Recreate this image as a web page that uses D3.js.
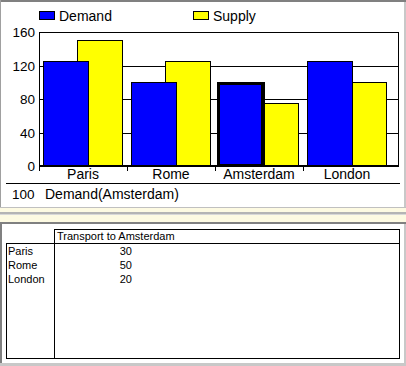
<!DOCTYPE html>
<html>
<head>
<meta charset="utf-8">
<script src="https://cdn.jsdelivr.net/npm/d3@7"></script>
<style>
  html, body { margin: 0; padding: 0; background: #ffffff; }
  svg { display: block; }
  text { font-family: "Liberation Sans", Arial, sans-serif; fill: #000; }
</style>
</head>
<body>
<script>
// ---- data ----
const categories = ["Paris", "Rome", "Amsterdam", "London"];
const seriesNames = ["Demand", "Supply"];
const demand = [125, 100, 100, 125];
const supply = [150, 125, 75, 100];
const yTicks = [0, 40, 80, 120, 160];
const selectedCategory = "Amsterdam";
const tableTitle = "Transport to Amsterdam";
const tableRows = ["Paris", "Rome", "London"];
const transport = [30, 50, 20];

const colors = { Demand: "#0000ff", Supply: "#ffff00" };

const W = 406, H = 366;
const svg = d3.select("body").append("svg").attr("width", W).attr("height", H);

// ---- window chrome ----
svg.append("rect").attr("x", 0).attr("y", 0).attr("width", W).attr("height", H).attr("fill", "#ffffff");
// top panel borders
svg.append("rect").attr("x", 0).attr("y", 0).attr("width", W).attr("height", 2).attr("fill", "#808080");
svg.append("rect").attr("x", 0).attr("y", 0).attr("width", 1).attr("height", 208).attr("fill", "#a0a0a0");
svg.append("rect").attr("x", 404).attr("y", 2).attr("width", 2).attr("height", 206).attr("fill", "#c8c8c8");
svg.append("rect").attr("x", 0).attr("y", 207).attr("width", W).attr("height", 1).attr("fill", "#c0c0c0");
// splitter
svg.append("rect").attr("x", 0).attr("y", 208).attr("width", W).attr("height", 14).attr("fill", "#fdfae2");
svg.append("rect").attr("x", 0).attr("y", 212).attr("width", W).attr("height", 2).attr("fill", "#b4b4b4");
svg.append("rect").attr("x", 0).attr("y", 214).attr("width", W).attr("height", 1).attr("fill", "#d8d8d8");
svg.append("rect").attr("x", 0).attr("y", 222).attr("width", W).attr("height", 2).attr("fill", "#808080");
// bottom panel borders
svg.append("rect").attr("x", 0).attr("y", 222).attr("width", 2).attr("height", 144).attr("fill", "#808080");
svg.append("rect").attr("x", 404).attr("y", 224).attr("width", 2).attr("height", 142).attr("fill", "#c8c8c8");
svg.append("rect").attr("x", 0).attr("y", 363).attr("width", W).attr("height", 3).attr("fill", "#c8c8c8");

// ---- chart scales ----
const x = d3.scaleBand().domain(categories).range([39, 391]).padding(0);
const barW = 45;
const offset = d3.scaleOrdinal(seriesNames, [4, 38]);
const y = d3.scaleLinear().domain([0, 160]).range([166, 32]);
const plotRight = 398;

const g = svg.append("g");

// gridlines
g.selectAll("line.grid").data(yTicks.filter(t => t > 0)).join("line")
  .attr("x1", 39).attr("x2", plotRight + 1)
  .attr("y1", d => Math.round(y(d)) + 0.5).attr("y2", d => Math.round(y(d)) + 0.5)
  .attr("stroke", "#000").attr("stroke-width", 1);

// frame
g.append("line").attr("x1", 39.5).attr("x2", 39.5).attr("y1", 32).attr("y2", 171).attr("stroke", "#000");
g.append("line").attr("x1", plotRight + 0.5).attr("x2", plotRight + 0.5).attr("y1", 32).attr("y2", 166).attr("stroke", "#000");

// bars: supply first, demand on top
const series = [
  { name: "Supply", values: supply },
  { name: "Demand", values: demand }
];
series.forEach(s => {
  g.selectAll("rect.b" + s.name).data(categories.map((c, i) => ({ c, v: s.values[i] }))).join("rect")
    .attr("x", d => x(d.c) + offset(s.name) + 0.5)
    .attr("y", d => Math.round(y(d.v)) + 0.5)
    .attr("width", barW)
    .attr("height", d => y(0) - Math.round(y(d.v)) - 0.5)
    .attr("fill", colors[s.name])
    .attr("stroke", "#000")
    .attr("stroke-width", 1);
});

// selected bar highlight
const si = categories.indexOf(selectedCategory);
g.append("rect")
  .attr("x", x(selectedCategory) + offset("Demand") - 2 + 0.5 + 1)
  .attr("y", Math.round(y(demand[si])) + 0.5 + 1)
  .attr("width", barW - 1)
  .attr("height", y(0) - Math.round(y(demand[si])) - 2)
  .attr("fill", "none")
  .attr("stroke", "#000")
  .attr("stroke-width", 3);

// baseline
g.append("line").attr("x1", 39).attr("x2", plotRight + 1).attr("y1", y(0)).attr("y2", y(0))
  .attr("stroke", "#000").attr("stroke-width", 2);

// category ticks
g.selectAll("line.ctick").data(categories).join("line")
  .attr("x1", d => x(d) + 0.5).attr("x2", d => x(d) + 0.5)
  .attr("y1", 166).attr("y2", 171).attr("stroke", "#000");

// y labels
g.selectAll("text.ylab").data(yTicks).join("text")
  .attr("x", 35).attr("y", d => y(d) + 5)
  .attr("text-anchor", "end").attr("font-size", 13.5).text(d => d);

// category labels
g.selectAll("text.clab").data(categories).join("text")
  .attr("x", d => x(d) + x.bandwidth() / 2).attr("y", 179)
  .attr("text-anchor", "middle").attr("font-size", 14).text(d => d);

// legend
const legendX = d3.scaleOrdinal(seriesNames, [39, 193]);
seriesNames.forEach(n => {
  g.append("rect").attr("x", legendX(n) + 0.5).attr("y", 11.5).attr("width", 15).attr("height", 8)
    .attr("fill", colors[n]).attr("stroke", "#000");
  g.append("text").attr("x", legendX(n) + 20).attr("y", 21).attr("font-size", 14).text(n);
});

// footer
g.append("line").attr("x1", 6).attr("x2", 400).attr("y1", 183.5).attr("y2", 183.5).attr("stroke", "#000");
g.append("text").attr("x", 12).attr("y", 199).attr("font-size", 13.5).text(demand[si]);
g.append("text").attr("x", 45).attr("y", 199).attr("font-size", 14).text("Demand(" + selectedCategory + ")");

// ---- table ----
const t = svg.append("g");
t.append("rect").attr("x", 54.5).attr("y", 229.5).attr("width", 345).attr("height", 14)
  .attr("fill", "none").attr("stroke", "#000");
t.append("rect").attr("x", 6.5).attr("y", 243.5).attr("width", 48).attr("height", 115)
  .attr("fill", "none").attr("stroke", "#000");
t.append("rect").attr("x", 54.5).attr("y", 243.5).attr("width", 345).attr("height", 115)
  .attr("fill", "none").attr("stroke", "#000");
t.append("text").attr("x", 57).attr("y", 240).attr("font-size", 11).text(tableTitle);
const rowY = d3.scalePoint().domain(tableRows).range([255, 283]);
t.selectAll("text.rl").data(tableRows).join("text")
  .attr("x", 8).attr("y", d => rowY(d)).attr("font-size", 11).text(d => d);
t.selectAll("text.rv").data(tableRows).join("text")
  .attr("x", 132).attr("y", d => rowY(d)).attr("text-anchor", "end").attr("font-size", 11)
  .text((d, i) => transport[i]);
</script>
</body>
</html>
